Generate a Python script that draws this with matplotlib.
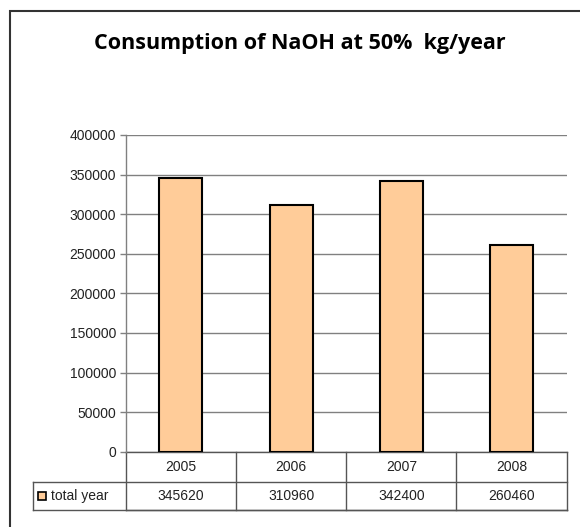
import matplotlib
matplotlib.use("Agg")
import matplotlib.pyplot as plt
from matplotlib.patches import Rectangle
from matplotlib.transforms import blended_transform_factory

# =========================
# DATA
# =========================
years = ["2005", "2006", "2007", "2008"]
total_year = [345620, 310960, 342400, 260460]
series_name = "total year"
y_ticks = [0, 50000, 100000, 150000, 200000, 250000, 300000, 350000, 400000]

BAR_COLOR = "#FFCC99"
GRID_COLOR = "#808080"
W, H = 580, 527

plt.rcParams["font.family"] = ["Liberation Sans", "DejaVu Sans"]

fig = plt.figure(figsize=(W / 100, H / 100), dpi=100)


def fx(px):
    return px / W


def fy(py):
    return 1 - py / H


# plot area in pixel coords
left, right, top, bottom = 125.7, 566.7, 135.0, 451.7
ax = fig.add_axes([fx(left), fy(bottom), fx(right - left), (bottom - top) / H])

x = list(range(len(years)))
ax.bar(x, total_year, width=0.39, color=BAR_COLOR, edgecolor="black",
       linewidth=1.5, zorder=3)
ax.set_xlim(-0.5, len(years) - 0.5)
ax.set_ylim(0, 400000)
ax.set_yticks(y_ticks)
ax.set_yticklabels([str(v) for v in y_ticks], fontsize=10, color="#222222")
ax.set_xticks([])
ax.yaxis.grid(True, color=GRID_COLOR, linewidth=1.0, zorder=0)
ax.tick_params(axis="y", length=4, color=GRID_COLOR, width=1, pad=3)
for side in ["top", "right", "bottom"]:
    ax.spines[side].set_visible(False)
ax.spines["left"].set_color(GRID_COLOR)
ax.spines["left"].set_linewidth(1.0)

# =========================
# DATA TABLE UNDER THE AXIS
# =========================
tr = blended_transform_factory(ax.transData, fig.transFigure)
row1, row2, row3 = bottom, 481.7, 510.0
label_left = 32.6
line_kw = dict(color="#555555", linewidth=1.0, clip_on=False)

# horizontal lines
ax.plot([-0.5, len(years) - 0.5], [fy(row1), fy(row1)], transform=tr, **line_kw)
ax.plot([-0.5, len(years) - 0.5], [fy(row3), fy(row3)], transform=tr, **line_kw)
fig.add_artist(plt.Line2D([fx(label_left), fx(right)], [fy(row2), fy(row2)],
                          transform=fig.transFigure, color="#555555", linewidth=1.0))
fig.add_artist(plt.Line2D([fx(label_left), fx(right)], [fy(row3), fy(row3)],
                          transform=fig.transFigure, color="#555555", linewidth=1.0))
fig.add_artist(plt.Line2D([fx(label_left), fx(label_left)], [fy(row2), fy(row3)],
                          transform=fig.transFigure, color="#555555", linewidth=1.0))
# vertical lines between columns
for b in range(len(years) + 1):
    ax.plot([b - 0.5, b - 0.5], [fy(row1), fy(row3)], transform=tr, **line_kw)

for i, (yr, val) in enumerate(zip(years, total_year)):
    ax.text(i, fy((row1 + row2) / 2), yr, transform=tr, ha="center",
            va="center", fontsize=10, color="#222222")
    ax.text(i, fy((row2 + row3) / 2), str(val), transform=tr, ha="center",
            va="center", fontsize=10, color="#222222")

# legend key in the row label cell
ymid = (row2 + row3) / 2
fig.add_artist(Rectangle((fx(38), fy(ymid + 4)), fx(8), 8 / H, facecolor=BAR_COLOR,
                         edgecolor="black", linewidth=1.2, transform=fig.transFigure))
fig.text(fx(51), fy(ymid), series_name, ha="left", va="center", fontsize=10,
         color="#222222")

# =========================
# TITLE AND OUTER BORDER
# =========================
fig.text(fx(300), fy(44), "Consumption of NaOH at 50%  kg/year", ha="center",
         va="center", fontsize=15.5, fontweight="bold", family=["Open Sans", "DejaVu Sans"])

fig.add_artist(Rectangle((fx(10), -0.1), 1.2, fy(11) + 0.1, fill=False,
                         edgecolor="#333333", linewidth=1.5, transform=fig.transFigure))

fig.savefig("out.png", dpi=100)
